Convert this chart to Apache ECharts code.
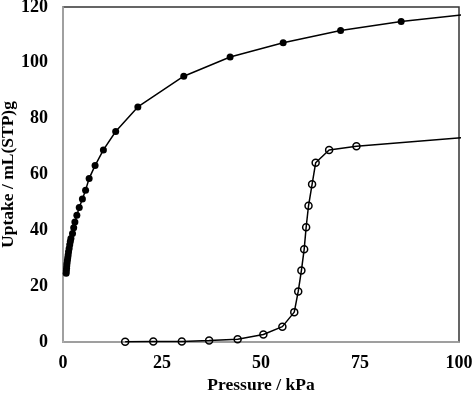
<!DOCTYPE html>
<html><head><meta charset="utf-8">
<script src="https://cdn.jsdelivr.net/npm/echarts@6/dist/echarts.min.js"></script>
<style>html,body{margin:0;padding:0;background:#fff}#c{width:474px;height:395px}</style>
</head><body><div id="c"></div>
<script>
const filledX = [0.8,0.85,0.9,0.95,1.0,1.1,1.2,1.3,1.4,1.55,1.7,1.85,2.0,2.4,2.7,3.0,3.5,4.1,4.9,5.7,6.6,8.1,10.2,13.3,18.9,30.5,42.2,55.6,70.1,85.4,102];
const filledY = [24.6,25.5,26.4,27.3,28.2,29.2,30.2,31.2,32.3,33.5,34.8,36.0,37.1,38.9,40.9,43.0,45.4,48.2,51.2,54.4,58.6,63.2,68.8,75.4,84.2,95.2,102.1,107.2,111.6,114.8,117.4];
const openX = [15.7,22.8,30.0,36.9,44.1,50.6,55.4,58.4,59.4,60.2,60.9,61.4,62.0,62.9,63.8,67.2,74.1,102];
const openY = [0.1,0.2,0.2,0.5,1.0,2.7,5.5,10.7,18.1,25.6,33.2,41.1,48.8,56.5,64.2,68.8,70.1,73.3];
const xTicks = [0,25,50,75,100];
const yTicks = [0,20,40,60,80,100,120];
const xTitle = 'Pressure / kPa';
const yTitle = 'Uptake / mL(STP)g';

const font = 'Liberation Serif, Times New Roman, serif';
const zip = (a,b)=>a.map((v,i)=>[v,b[i]]);
const chart = echarts.init(document.getElementById('c'));
chart.setOption({
  animation:false,
  grid:{left:63,right:15,top:7,bottom:53,containLabel:false,outerBoundsMode:'none',
        show:true,borderColor:'#333',borderWidth:1.5,backgroundColor:'transparent'},
  xAxis:{
    type:'value',min:xTicks[0],max:xTicks[xTicks.length-1],interval:25,
    axisLine:{show:true,onZero:false,lineStyle:{color:'#b4b4b4',width:1.5}},
    axisTick:{show:false},splitLine:{show:false},
    axisLabel:{color:'#000',fontFamily:font,fontWeight:'bold',fontSize:18,margin:12},
    name:xTitle,nameLocation:'middle',nameGap:34,nameMoveOverlap:false,
    nameTextStyle:{color:'#000',fontFamily:font,fontWeight:'bold',fontSize:17.5}
  },
  yAxis:{
    type:'value',min:yTicks[0],max:yTicks[yTicks.length-1],interval:20,
    axisLine:{show:true,onZero:false,lineStyle:{color:'#b4b4b4',width:1.5}},
    axisTick:{show:false},splitLine:{show:false},
    axisLabel:{color:'#000',fontFamily:font,fontWeight:'bold',fontSize:18,margin:15},
    name:yTitle,nameLocation:'middle',nameGap:46,nameMoveOverlap:false,
    nameTextStyle:{color:'#000',fontFamily:font,fontWeight:'bold',fontSize:17.5}
  },
  series:[{
    type:'line',data:zip(filledX,filledY),clip:true,
    symbol:'circle',symbolSize:7,
    lineStyle:{color:'#000',width:1.5},
    itemStyle:{color:'#000',borderColor:'#000',borderWidth:0}
  },{
    type:'line',data:zip(openX,openY),clip:true,
    symbol:'circle',symbolSize:7,
    lineStyle:{color:'#000',width:1.5},
    itemStyle:{color:'rgba(0,0,0,0)',borderColor:'#000',borderWidth:1.5}
  }]
});
</script></body></html>
